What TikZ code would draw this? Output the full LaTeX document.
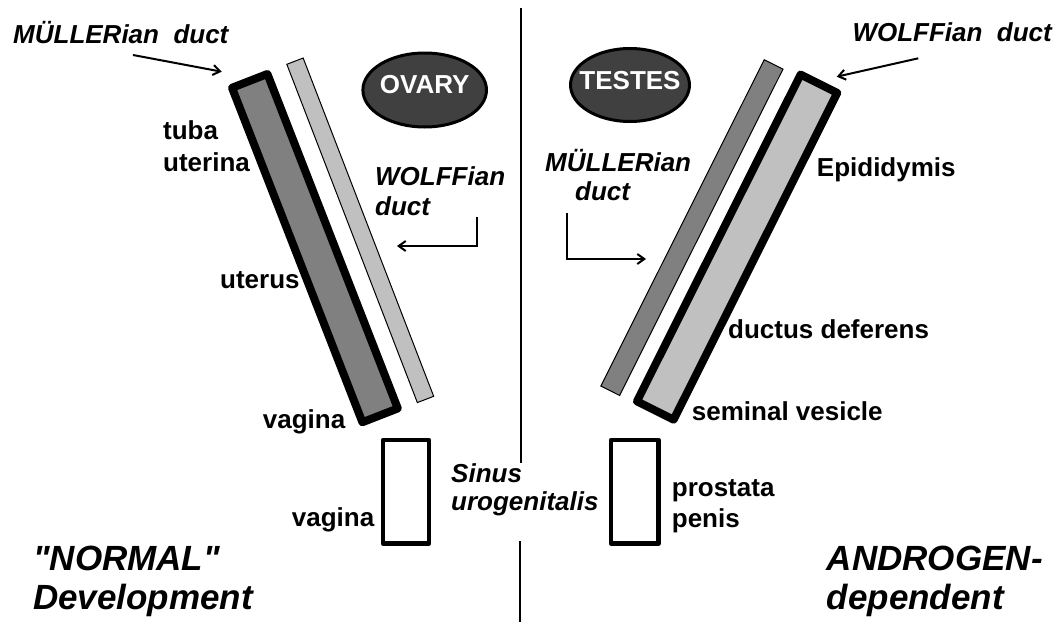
\documentclass[tikz,border=0pt]{standalone}
\usepackage{fontspec}
\setmainfont{Liberation Sans}
\newfontfamily\plainsans{Liberation Sans}
\usetikzlibrary{shapes.geometric,arrows.meta}
\definecolor{dgray}{HTML}{808080}
\definecolor{lgray}{HTML}{C0C0C0}
\definecolor{ovalfill}{HTML}{404040}
\begin{document}
\begin{tikzpicture}[x=1pt,y=-1pt,
  lbl/.style={font=\fontsize{26}{30}\selectfont\bfseries, inner sep=0pt, anchor=base west},
  ilbl/.style={font=\fontsize{26}{30}\selectfont\bfseries\itshape, inner sep=0pt, anchor=base west},
  biglbl/.style={font=\plainsans\fontsize{35}{40}\selectfont\bfseries\itshape, inner sep=0pt, anchor=base west},
  thickbar/.style={draw=black, line width=8pt, line join=round, inner sep=0pt, outer sep=0pt},
  thinbar/.style={draw=black, line width=1pt, inner sep=0pt, outer sep=0pt},
  sinusbox/.style={draw=black, line width=4.5pt, line join=round, inner sep=0pt, outer sep=0pt, fill=white},
  organ/.style={ellipse, draw=black, line width=3pt, fill=ovalfill, inner sep=0pt},
  organtext/.style={font=\fontsize{26}{30}\selectfont\bfseries, text=white, inner sep=0pt},
  arr/.style={line width=2pt, -{Straight Barb[length=7pt,width=10pt]}},
  divider/.style={line width=1.5pt}
]
\useasboundingbox (0,0) rectangle (1055,624);

% divider
\coordinate (divTop) at (521,8);
\coordinate (divMidA) at (521,463);
\coordinate (divMidB) at (520,541);
\coordinate (divBot) at (520,622);
\draw[divider] (divTop) -- (divMidA);
\draw[divider] (divMidB) -- (divBot);

% left side ducts
\node[thinbar, fill=lgray, minimum width=17.5pt, minimum height=362.6pt, rotate=21.1] (wdL) at (360.25,230.3) {};
\node[thickbar, fill=dgray, minimum width=38pt, minimum height=359pt, rotate=21.3] (mdL) at (314.9,248.1) {};

% right side ducts
\node[thinbar, fill=dgray, minimum width=21pt, minimum height=365pt, rotate=-26.6] (mdR) at (691.9,227.6) {};
\node[thickbar, fill=lgray, minimum width=41pt, minimum height=365.5pt, rotate=-26.6] (wdR) at (737.1,247.1) {};

% sinus boxes
\node[sinusbox, minimum width=46pt, minimum height=103.5pt] (sinL) at (406,491.7) {};
\node[sinusbox, minimum width=47.5pt, minimum height=103.5pt] (sinR) at (634.8,491.7) {};

% organs
\node[organ, minimum width=123.6pt, minimum height=74pt] (ovary) at (424.7,90) {};
\node[organtext] (ovaryT) at (424.7,85) {OVARY};
\node[organ, minimum width=119pt, minimum height=73pt] (testes) at (630,85) {};
\node[organtext] (testesT) at (630,81) {TESTES};

% top labels + arrows
\node[ilbl] (mulTop) at (13,43.3) {MÜLLERian\ \ duct};
\coordinate (mulArrS) at (133,55);
\coordinate (mulArrE) at (221.7,71.7);
\draw[arr] (mulArrS) -- (mulArrE);

\node[ilbl, anchor=base east] (wolTop) at (1052,41.7) {WOLFFian\ \ duct};
\coordinate (wolArrS) at (918.3,58.3);
\coordinate (wolArrE) at (836.7,76.7);
\draw[arr] (wolArrS) -- (wolArrE);

% left labels
\node[lbl] (tuba1) at (163,139) {tuba};
\node[lbl] (tuba2) at (163,171.7) {uterina};
\node[lbl] (uterus) at (220,288) {uterus};
\node[lbl] (vagina1) at (262.7,428) {vagina};
\node[lbl] (vagina2) at (291.7,526.7) {vagina};

\node[ilbl] (wolMid1) at (375,185) {WOLFFian};
\node[ilbl] (wolMid2) at (375,215) {duct};
\coordinate (wolLA) at (477,217);
\coordinate (wolLB) at (477,246);
\coordinate (wolLC) at (397,246);
\draw[arr] (wolLA) -- (wolLB) -- (wolLC);

% center
\node[ilbl] (sinus1) at (451,482) {Sinus};
\node[ilbl] (sinus2) at (451,510.5) {urogenitalis};

% right labels
\node[ilbl] (mulMid1) at (545,171.7) {MÜLLERian};
\node[ilbl] (mulMid2) at (575,200) {duct};
\coordinate (mulLA) at (567.3,212.7);
\coordinate (mulLB) at (567.3,259);
\coordinate (mulLC) at (646,259);
\draw[arr] (mulLA) -- (mulLB) -- (mulLC);

\node[lbl] (epid) at (816.7,176.7) {Epididymis};
\node[lbl] (ductus) at (728,338) {ductus deferens};
\node[lbl] (seminal) at (691.7,420) {seminal vesicle};
\node[lbl] (prost) at (671.7,496.7) {prostata};
\node[lbl] (penis) at (671.7,527) {penis};

% bottom titles
\node[biglbl] (normal1) at (33,570) {"NORMAL"};
\node[biglbl] (normal2) at (33,609) {Development};
\node[biglbl] (andro1) at (826.7,570) {ANDROGEN-};
\node[biglbl] (andro2) at (826.7,609) {dependent};
\end{tikzpicture}
\end{document}
